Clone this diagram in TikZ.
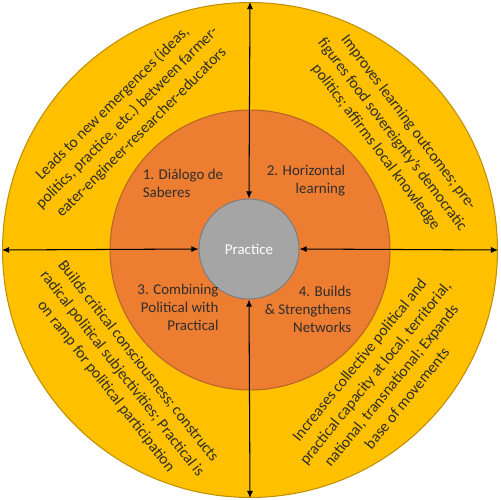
\documentclass[tikz,border=0pt]{standalone}
\usepackage{fontspec}
\setmainfont{Carlito}
\usetikzlibrary{arrows.meta}
\definecolor{gold}{HTML}{FFC000}
\definecolor{goldline}{HTML}{BF9000}
\definecolor{ember}{HTML}{ED7D31}
\definecolor{emberline}{HTML}{B5652A}
\definecolor{stone}{HTML}{A5A5A5}
\definecolor{stoneline}{HTML}{7F7F7F}
\definecolor{ink}{HTML}{2E2E2E}
\begin{document}
\begin{tikzpicture}[
x=0.02cm, y=-0.02cm,
every node/.style={font=\fontsize{8.5}{10.3}\selectfont, text=ink},
ring/.style={circle, inner sep=0pt, line width=0.6pt},
link/.style={draw=black, line width=0.6pt, {Latex[length=4pt,width=3.5pt]}-{Latex[length=4pt,width=3.5pt]}},
effect/.style={align=center, font=\fontsize{8.9}{11.6}\selectfont},
mode/.style={align=right}
]
\useasboundingbox (0,0) rectangle (500,500);

\node[ring, fill=gold, draw=goldline, minimum size=9.9cm] (outer) at (250,250) {};
\node[ring, fill=ember, draw=emberline, minimum size=5.6cm] (inner) at (250,250) {};
\node[ring, fill=stone, draw=stoneline, minimum size=2cm, text=white] (core) at (249,249) {Practice};

\draw[link] (outer.north) -- (core.north);
\draw[link] (outer.west) -- (core.west);
\draw[link] (outer.east) -- (core.east);
\draw[link] (outer.south) -- (core.south);

\node[align=left] (dialogo) at (183,183) {1. Diálogo de\\Saberes};
\node[mode] (horizontal) at (306,181) {2. Horizontal\\learning};
\node[mode] (combining) at (178,307) {3. Combining\\Political with\\Practical};
\node[mode] (networks) at (308,309) {4. Builds\\\& Strengthens\\Networks};

\node[effect, rotate=45] (emergences) at (127,118) {Leads to new emergences (ideas,\\politics, practice, etc.) between farmer-\\eater-engineer-researcher-educators};
\node[effect, rotate=-53] (outcomes) at (392,135) {Improves learning outcomes; pre-\\figures food sovereignty's democratic\\politics; affirms local knowledge};
\node[effect, rotate=-52] (consciousness) at (122,374) {Builds critical consciousness; constructs\\radical political subjectivities; Practical is\\on ramp for political participation};
\node[effect, rotate=51] (capacity) at (383,379) {Increases collective political and\\practical capacity at local, territorial,\\national, transnational; Expands\\base of movements};

\end{tikzpicture}
\end{document}
